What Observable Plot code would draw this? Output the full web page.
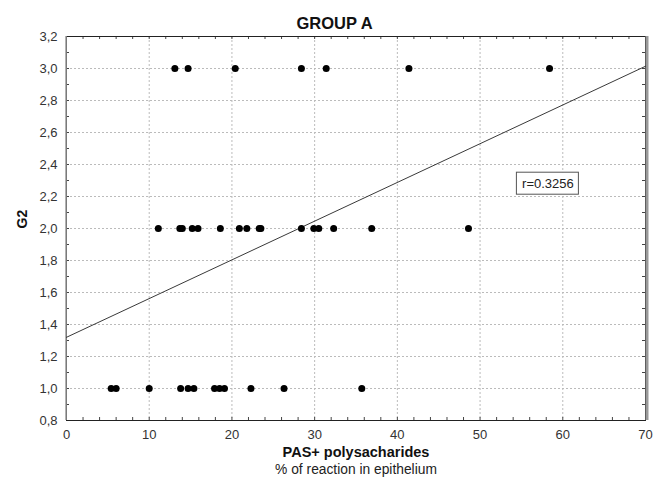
<!DOCTYPE html>
<html>
<head>
<meta charset="utf-8">
<script src="https://cdn.jsdelivr.net/npm/d3@7"></script>
<script src="https://cdn.jsdelivr.net/npm/@observablehq/plot@0.6"></script>
<style>
  html, body { margin: 0; padding: 0; background: #fff; }
  svg { font-family: "Liberation Sans", Arial, sans-serif; }
</style>
</head>
<body>
<div id="chart"></div>
<script>
// ---- data ----
const title = "GROUP A";
const xLabel = "PAS+ polysacharides";
const xSubLabel = "% of reaction in epithelium";
const yLabel = "G2";
const xAtG1 = [5.4, 6.0, 10.0, 13.8, 14.7, 15.4, 17.9, 18.5, 19.1, 22.3, 26.3, 35.7];
const xAtG2 = [11.1, 13.7, 14.0, 15.2, 15.9, 18.6, 20.9, 21.8, 23.3, 23.5, 28.4, 29.9, 30.5, 32.3, 36.9, 48.6];
const xAtG3 = [13.1, 14.7, 20.4, 28.4, 31.4, 41.4, 58.4];
const fitIntercept = 1.32;
const fitSlope = 0.0242;
const rText = "r=0.3256";
const rLabelAt = {x: 58.2, y: 2.28};
const xTicks = [0, 10, 20, 30, 40, 50, 60, 70];
const yTicks = [0.8, 1.0, 1.2, 1.4, 1.6, 1.8, 2.0, 2.2, 2.4, 2.6, 2.8, 3.0, 3.2];

const points = [
  ...xAtG1.map(x => ({x, g: 1})),
  ...xAtG2.map(x => ({x, g: 2})),
  ...xAtG3.map(x => ({x, g: 3}))
];
const xDomain = [0, 70];
const yDomain = [0.8, 3.2];
const fitLine = xDomain.map(x => ({x, y: fitIntercept + fitSlope * x}));
const xMinor = d3.range(0, 70.001, 2);
const yMinor = d3.range(8, 32.001, 1).map(v => v / 10);

const W = 667, H = 486, mL = 66, mR = 22, mT = 36, mB = 66;
const fw = W - mL - mR, fh = H - mT - mB;
const comma = d => d.toFixed(1).replace(".", ",");

const chart = Plot.plot({
  width: W, height: H,
  marginLeft: mL, marginRight: mR, marginTop: mT, marginBottom: mB,
  style: {fontFamily: '"Liberation Sans", Arial, sans-serif', background: "#fff"},
  x: {domain: xDomain},
  y: {domain: yDomain},
  marks: [
    Plot.gridX(xTicks.slice(1, -1), {stroke: "#bbb", strokeOpacity: 1, strokeDasharray: "2,2"}),
    Plot.gridY(yTicks.slice(1, -1), {stroke: "#bbb", strokeOpacity: 1, strokeDasharray: "2,2"}),
    // inward ticks (bottom / top)
    Plot.ruleX(xMinor, {x: d => d, stroke: "#444", insetTop: fh - 3}),
    Plot.ruleX(xMinor, {x: d => d, stroke: "#444", insetBottom: fh - 3}),
    // inward ticks (left / right)
    Plot.ruleY(yMinor, {y: d => d, stroke: "#444", insetRight: fw - 3}),
    Plot.ruleY(yMinor, {y: d => d, stroke: "#444", insetLeft: fw - 3}),
    Plot.frame({stroke: "#222", strokeWidth: 1}),
    Plot.ruleX([xDomain[0]], {stroke: "#999", strokeWidth: 1.5, dx: -0.5}),
    Plot.ruleX([xDomain[1]], {stroke: "#999", strokeWidth: 3, dx: 1.5}),
    Plot.axisX(xTicks, {anchor: "bottom", tickSize: 0, tickPadding: 9, fontSize: 13, fill: "#333", label: null}),
    Plot.axisY(yTicks, {anchor: "left", tickSize: 0, tickPadding: 9, fontSize: 13, fill: "#333", tickFormat: comma, label: null}),
    Plot.line(fitLine, {x: "x", y: "y", stroke: "#222", strokeWidth: 0.9}),
    Plot.dot(points, {x: "x", y: "g", r: 3.5, fill: "#000", stroke: null}),
    Plot.rect([rLabelAt], {x1: "x", x2: "x", y1: "y", y2: "y", insetLeft: -31, insetRight: -31, insetTop: -11, insetBottom: -11, fill: "#fff", stroke: "#555", strokeWidth: 1}),
    Plot.text([rLabelAt], {x: "x", y: "y", text: () => rText, fontSize: 13, fill: "#222"}),
    Plot.text([title], {frameAnchor: "top", dx: -21.5, dy: -19, text: d => d, fontSize: 16.5, fontWeight: "bold", fill: "#111"}),
    Plot.text([xLabel], {frameAnchor: "bottom", dy: 36, text: d => d, fontSize: 14.5, fontWeight: "bold", fill: "#111"}),
    Plot.text([xSubLabel], {frameAnchor: "bottom", dy: 53, text: d => d, fontSize: 13.8, fill: "#222"}),
    Plot.text([yLabel], {frameAnchor: "left", dx: -44, rotate: -90, text: d => d, fontSize: 14, fontWeight: "bold", fill: "#111"})
  ]
});
document.getElementById("chart").append(chart);
</script>
</body>
</html>
